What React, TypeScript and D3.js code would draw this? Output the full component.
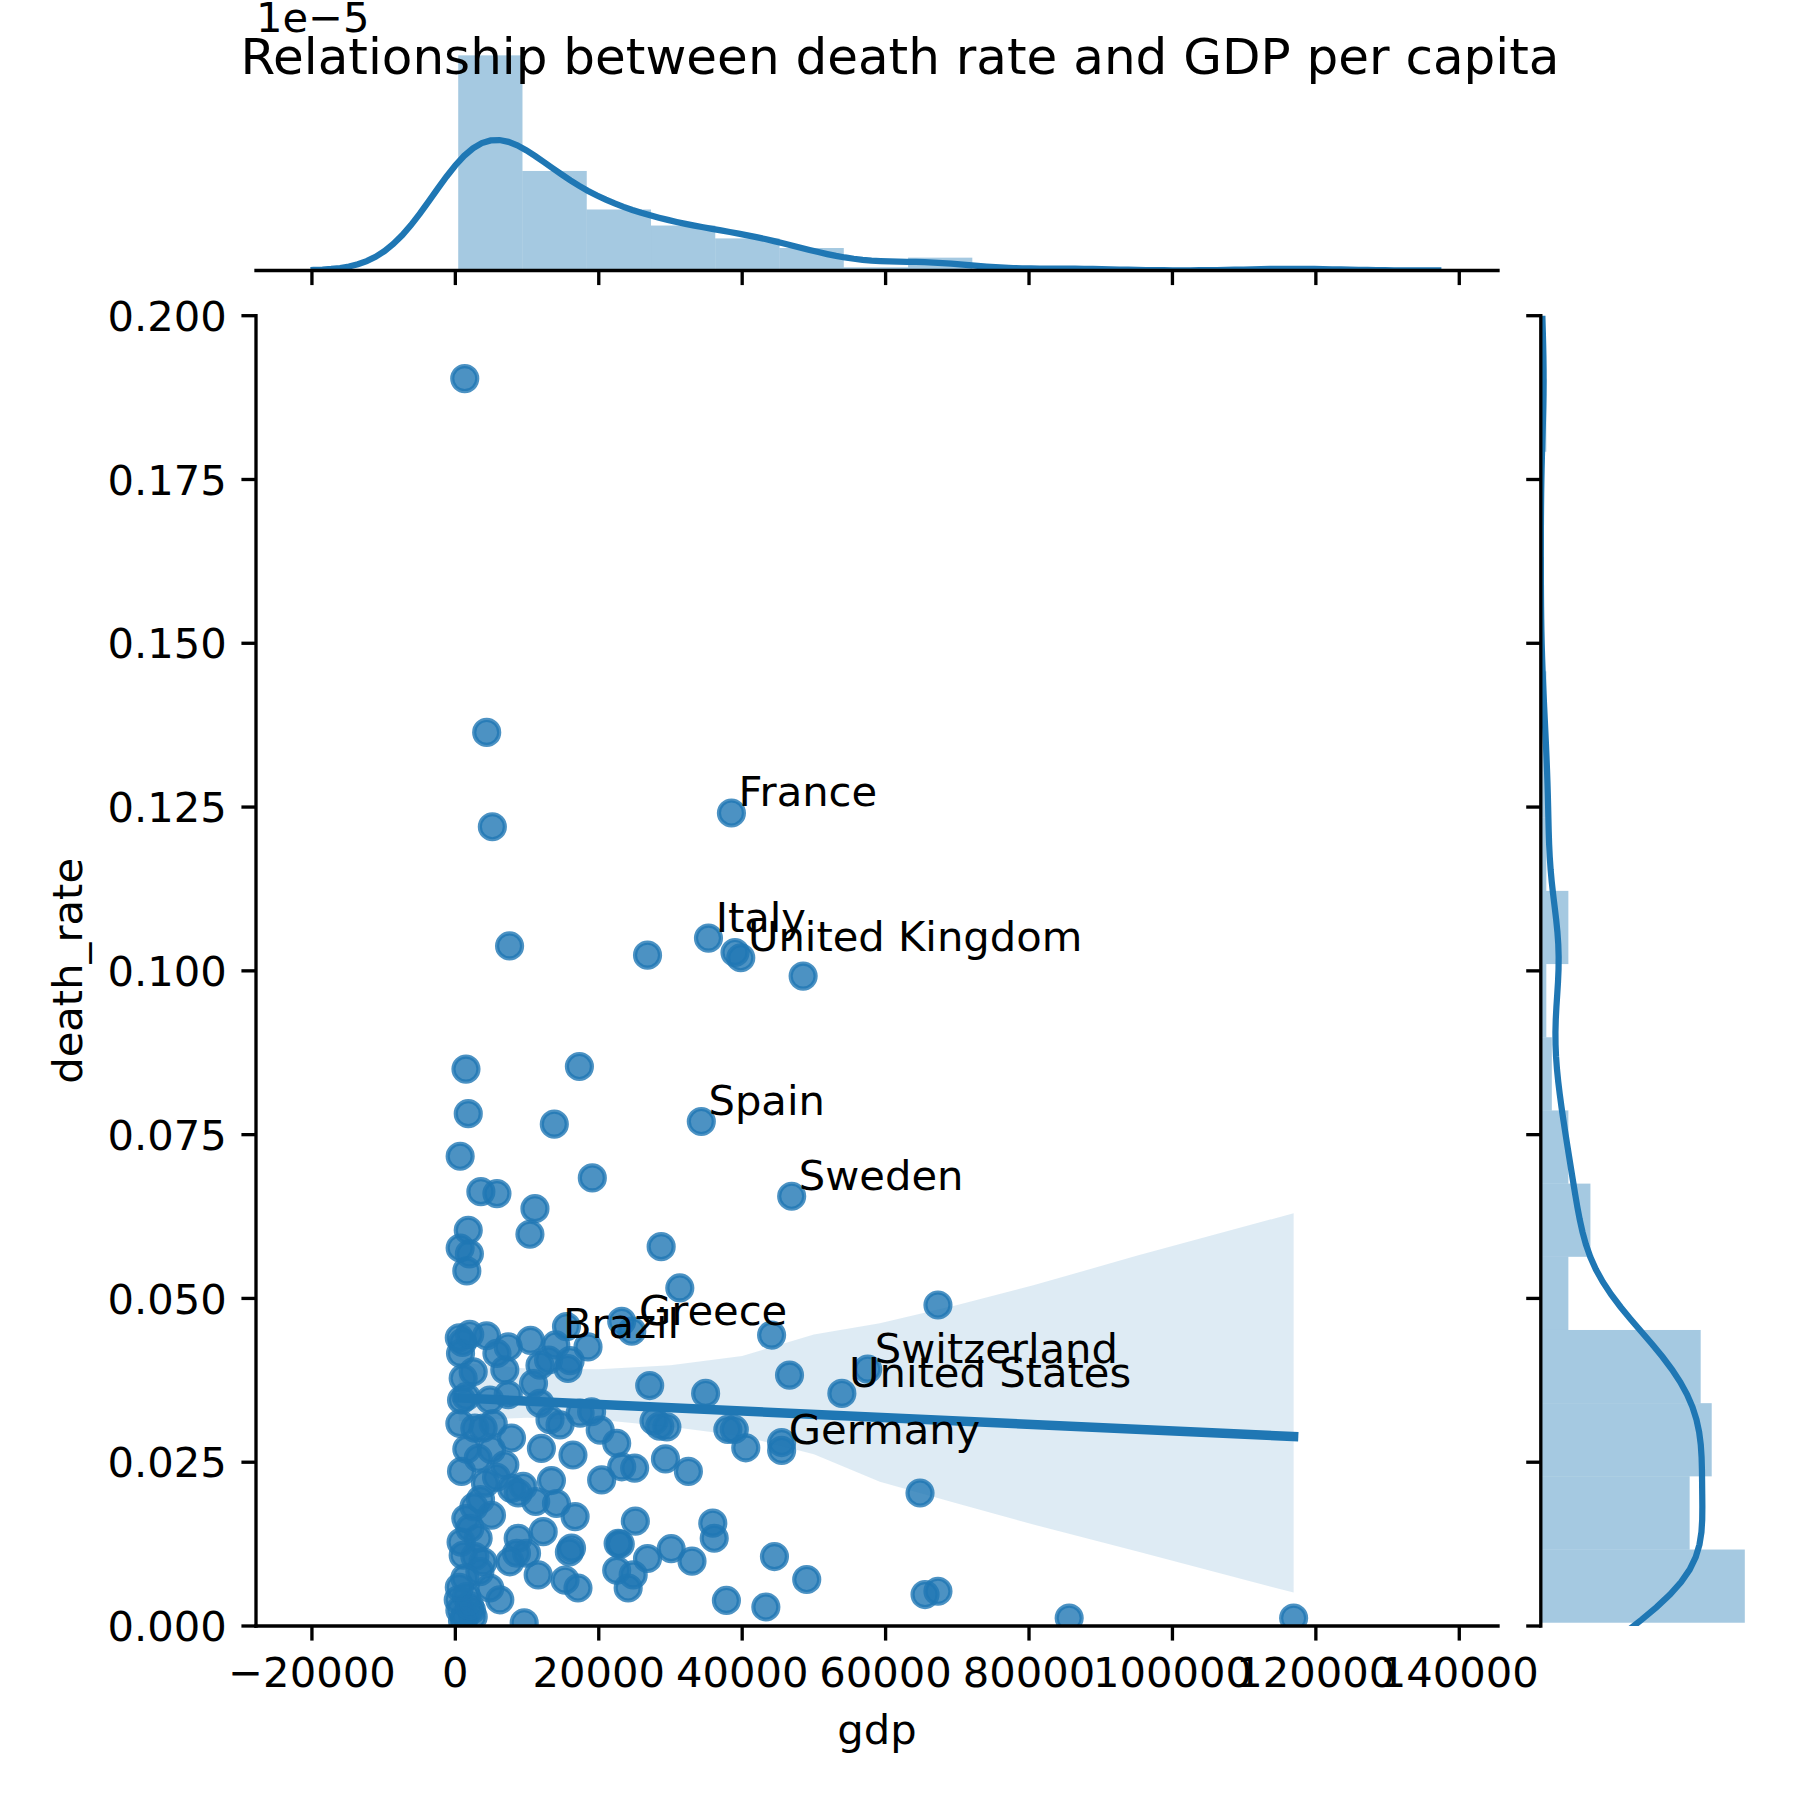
import React from "react";
import * as d3 from "d3";

// ---------------- data ----------------
// labelled countries are the first entries of gdp / deathRate
const labelNames = [
  "France", "Italy", "United Kingdom", "Spain", "Sweden",
  "Greece", "Brazil", "Switzerland", "United States", "Germany",
];

const gdp = [
  // labelled
  38500, 35300, 39800, 34300, 46900, 24600, 14000, 57500, 53900, 45500,
  // sparse / upper points
  1310, 4370, 5160, 7560, 26800, 48500, 1480, 17300, 1800, 13800,
  670, 19100, 3560, 5800, 11100, 10400, 1800, 28700, 670, 1960,
  1600, 31300, 67300, 44100, 46600, 27100, 34900, 38900, 40500, 45500,
  64800, 27700, 29500, 29300, 32500, 35900, 36100, 25100, 30100, 33000,
  26800, 44500, 49000, 37800, 43300, 65500, 67300, 85600, 116900, 9600,
  // dense band 0.023 - 0.047
  1000, 720, 4350, 7370, 10480, 15500, 18500, 23200, 2490, 1090,
  6900, 11800, 15700, 10900, 860, 4810, 7370, 11800, 17400, 19000,
  630, 2720, 3880, 5280, 13200, 14600, 20200, 22500, 7830, 12000,
  16400, 3180, 5040, 6900, 23200, 25000, 860,
  // dense low part 0 - 0.023
  5740, 7830, 9460, 8760, 13400, 20400, 3510, 5040, 1460, 2020,
  3180, 1090, 2720, 3880, 3420, 1320, 400, 1560, 2250, 2490,
  630, 1320, 6200, 4810, 8760, 8530, 9930, 7600, 12250, 11550,
  14100, 16700, 16200, 15900, 15300, 17100, 22700, 22500, 24100, 24800,
  // hidden under overlaps
  1000, 2000, 550, 800, 2600, 4200, 11200, 1600, 550, 2000,
  5800, 13000, 39000, 1500, 16000, 23000, 28500, 38000,
];

const deathRate = [
  // labelled
  0.1241, 0.1050, 0.1020, 0.0770, 0.0656, 0.0450, 0.0429, 0.0392, 0.0355, 0.0268,
  // sparse / upper points
  0.1904, 0.1364, 0.1220, 0.1038, 0.1024, 0.0992, 0.0850, 0.0854, 0.0782, 0.0766,
  0.0717, 0.0684, 0.0663, 0.0660, 0.0637, 0.0598, 0.0604, 0.0579, 0.0577, 0.0568,
  0.0542, 0.0516, 0.0490, 0.0444, 0.0383, 0.0367, 0.0355, 0.0300, 0.0272, 0.0280,
  0.0203, 0.0313, 0.0304, 0.0255, 0.0236, 0.0157, 0.0134, 0.0160, 0.0118, 0.0099,
  0.0103, 0.0106, 0.0071, 0.0039, 0.0029, 0.0048, 0.0053, 0.0012, 0.0012, 0.0005,
  // dense band
  0.0433, 0.0416, 0.0443, 0.0426, 0.0436, 0.0457, 0.0426, 0.0465, 0.0388, 0.0378,
  0.0391, 0.0398, 0.0393, 0.0370, 0.0345, 0.0345, 0.0353, 0.0340, 0.0325, 0.0327,
  0.0309, 0.0302, 0.0302, 0.0309, 0.0315, 0.0307, 0.0299, 0.0279, 0.0287, 0.0271,
  0.0261, 0.0256, 0.0269, 0.0246, 0.0243, 0.0241, 0.0236,
  // dense low part
  0.0227, 0.0210, 0.0213, 0.0203, 0.0222, 0.0223, 0.0193, 0.0169, 0.0164, 0.0149,
  0.0134, 0.0108, 0.0106, 0.0098, 0.0083, 0.0073, 0.0040, 0.0045, 0.0024, 0.0014,
  0.0024, 0.0014, 0.0040, 0.0058, 0.0134, 0.0111, 0.0111, 0.0098, 0.0144, 0.0078,
  0.0187, 0.0167, 0.0119, 0.0113, 0.0070, 0.0058, 0.0126, 0.0085, 0.0058, 0.0078,
  // hidden
  0.0008, 0.0031, 0.0059, 0.0128, 0.0182, 0.0218, 0.0190, 0.0270, 0.0440, 0.0445,
  0.0416, 0.0406, 0.1028, 0.0350, 0.0405, 0.0125, 0.0305, 0.0300,
];

// bootstrap confidence band of the regression
const ciGdp = [500, 10000, 20000, 30000, 40000, 50000, 59200, 70000, 80600, 95000, 116900];
const ciLow = [0.0313, 0.0318, 0.0315, 0.0304, 0.0290, 0.0262, 0.0220, 0.0187, 0.0155, 0.0114, 0.0051];
const ciHigh = [0.0402, 0.0393, 0.0392, 0.0398, 0.0412, 0.0445, 0.0462, 0.0490, 0.0520, 0.0565, 0.0630];

const xTicks = [-20000, 0, 20000, 40000, 60000, 80000, 100000, 120000, 140000];
const yTicks = [0, 0.025, 0.05, 0.075, 0.1, 0.125, 0.15, 0.175, 0.2];
const xDomain = [-27800, 145400];
const yDomain = [0, 0.2];
const xBinCount = 13;
const yBinCount = 17;

// ---------------- styling / layout ----------------
const FONT = "DejaVu Sans";
const BLUE = "#1f77b4";
const FS = 41.667;
const TITLE_FS = 50;
const LW = 3.333;
const TICK = 14.583;
const PAD = 14.583;

const J = { left: 256, right: 1498, top: 315.7, bottom: 1626 };
const MX = { left: 256, right: 1498, top: 44.6, bottom: 270.5 };
const MY = { left: 1540.8, right: 1755, top: 315.7, bottom: 1626 };

// ---------------- helpers ----------------
function scottBw(v: number[]) {
  const n = v.length;
  const sorted = [...v].sort((a, b) => a - b);
  const iqr = ((d3.quantileSorted(sorted, 0.75) as number) - (d3.quantileSorted(sorted, 0.25) as number)) / 1.349;
  const sd = d3.deviation(v) as number;
  const a = iqr > 0 ? Math.min(sd, iqr) : sd;
  return 1.059 * a * Math.pow(n, -0.2);
}

function kde(v: number[], gridsize = 128, cut = 3) {
  const bw = scottBw(v);
  const lo = (d3.min(v) as number) - cut * bw;
  const hi = (d3.max(v) as number) + cut * bw;
  const n = v.length;
  const norm = 1 / (n * bw * Math.sqrt(2 * Math.PI));
  const out: { v: number; d: number }[] = [];
  for (let i = 0; i < gridsize; i++) {
    const g = lo + ((hi - lo) * i) / (gridsize - 1);
    let s = 0;
    for (const xi of v) {
      const z = (g - xi) / bw;
      s += Math.exp(-0.5 * z * z);
    }
    out.push({ v: g, d: s * norm });
  }
  return out;
}

function histogram(v: number[], nb: number) {
  const lo = d3.min(v) as number;
  const hi = d3.max(v) as number;
  const w = (hi - lo) / nb;
  const counts = new Array(nb).fill(0);
  for (const xi of v) {
    let k = Math.floor((xi - lo) / w);
    if (k >= nb) k = nb - 1;
    counts[k]++;
  }
  return counts.map((c, k) => ({ x0: lo + k * w, x1: lo + (k + 1) * w, d: c / (v.length * w) }));
}

export default function App() {
  const n = gdp.length;
  const x = d3.scaleLinear().domain(xDomain).range([J.left, J.right]);
  const y = d3.scaleLinear().domain(yDomain).range([J.bottom, J.top]);

  // regression
  const mx = d3.mean(gdp) as number;
  const my = d3.mean(deathRate) as number;
  let sxy = 0, sxx = 0;
  for (let i = 0; i < n; i++) {
    sxy += (gdp[i] - mx) * (deathRate[i] - my);
    sxx += (gdp[i] - mx) * (gdp[i] - mx);
  }
  const slope = sxy / sxx;
  const icpt = my - slope * mx;
  const gmin = d3.min(gdp) as number;
  const gmax = d3.max(gdp) as number;
  const regLine = d3.line<number>().x((g) => x(g)).y((g) => y(icpt + slope * g))([gmin, gmax]) as string;

  const band = d3
    .area<number>()
    .x((_, i) => x(ciGdp[i]))
    .y0((_, i) => y(ciLow[i]))
    .y1((_, i) => y(ciHigh[i]))(ciGdp) as string;

  // marginals
  const hx = histogram(gdp, xBinCount);
  const kx = kde(gdp);
  const hy = histogram(deathRate, yBinCount);
  const ky = kde(deathRate);

  const mxMax = Math.max(d3.max(hx, (b) => b.d) as number, d3.max(kx, (p) => p.d) as number);
  const myMax = Math.max(d3.max(hy, (b) => b.d) as number, d3.max(ky, (p) => p.d) as number);
  const dX = d3.scaleLinear().domain([0, mxMax * 1.05]).range([MX.bottom, MX.top]);
  const dY = d3.scaleLinear().domain([0, myMax * 1.05]).range([MY.left, MY.right]);

  const kxPath = d3.line<{ v: number; d: number }>().x((p) => x(p.v)).y((p) => dX(p.d))(kx) as string;
  const kyPath = d3.line<{ v: number; d: number }>().x((p) => dY(p.d)).y((p) => y(p.v))(ky) as string;

  const fmtX = d3.format("d");
  const fmtY = d3.format(".3f");

  const textStyle = { fontFamily: FONT, fontSize: FS, fill: "#000" } as React.CSSProperties;

  return (
    <div>
      <style>{"body{margin:0}"}</style>
      <svg width={1800} height={1800} viewBox="0 0 1800 1800" style={{ display: "block", background: "#fff" }}>
        <defs>
          <clipPath id="clipJ">
            <rect x={J.left} y={J.top} width={J.right - J.left} height={J.bottom - J.top} />
          </clipPath>
          <clipPath id="clipMX">
            <rect x={MX.left} y={MX.top} width={MX.right - MX.left} height={MX.bottom - MX.top} />
          </clipPath>
          <clipPath id="clipMY">
            <rect x={MY.left} y={MY.top} width={MY.right - MY.left} height={MY.bottom - MY.top} />
          </clipPath>
        </defs>
        <rect x={0} y={0} width={1800} height={1800} fill="#fff" />

        {/* joint: scatter */}
        <g clipPath="url(#clipJ)">
          {gdp.map((g, i) => (
            <circle
              key={i}
              cx={x(g)}
              cy={y(deathRate[i])}
              r={12.5}
              fill={BLUE}
              fillOpacity={0.8}
              stroke={BLUE}
              strokeOpacity={0.8}
              strokeWidth={4.167}
            />
          ))}
          <path d={regLine} stroke={BLUE} strokeWidth={9.375} strokeLinecap="square" fill="none" />
          <path d={band} fill={BLUE} fillOpacity={0.15} stroke="none" />
        </g>

        {/* annotations */}
        {labelNames.map((name, i) => (
          <text key={name} x={x(gdp[i] + 1000)} y={y(deathRate[i] + 0.001)} style={textStyle}>
            {name}
          </text>
        ))}

        {/* joint axes */}
        <line x1={J.left} x2={J.right} y1={J.bottom} y2={J.bottom} stroke="#000" strokeWidth={LW} strokeLinecap="square" />
        <line x1={J.left} x2={J.left} y1={J.top} y2={J.bottom} stroke="#000" strokeWidth={LW} strokeLinecap="square" />
        {xTicks.map((t) => (
          <g key={"xt" + t}>
            <line x1={x(t)} x2={x(t)} y1={J.bottom} y2={J.bottom + TICK} stroke="#000" strokeWidth={LW} />
            <text x={x(t)} y={J.bottom + TICK + PAD + 0.76 * FS} textAnchor="middle" style={textStyle}>
              {fmtX(t)}
            </text>
          </g>
        ))}
        {yTicks.map((t) => (
          <g key={"yt" + t}>
            <line x1={J.left - TICK} x2={J.left} y1={y(t)} y2={y(t)} stroke="#000" strokeWidth={LW} />
            <text x={J.left - TICK - PAD} y={y(t) + 0.3645 * FS} textAnchor="end" style={textStyle}>
              {fmtY(t)}
            </text>
          </g>
        ))}
        <text x={(J.left + J.right) / 2} y={1744.4} textAnchor="middle" style={textStyle}>
          gdp
        </text>
        <text
          x={0}
          y={0}
          transform={`translate(81.5, ${(J.top + J.bottom) / 2}) rotate(-90)`}
          textAnchor="middle"
          style={textStyle}
        >
          death_rate
        </text>

        {/* marginal x */}
        <g clipPath="url(#clipMX)">
          {hx.map((b, i) => (
            <rect
              key={i}
              x={x(b.x0)}
              y={dX(b.d)}
              width={x(b.x1) - x(b.x0)}
              height={dX(0) - dX(b.d)}
              fill={BLUE}
              fillOpacity={0.4}
            />
          ))}
          <path d={kxPath} stroke={BLUE} strokeWidth={6.25} fill="none" strokeLinecap="square" />
        </g>
        <line x1={MX.left} x2={MX.right} y1={MX.bottom} y2={MX.bottom} stroke="#000" strokeWidth={LW} strokeLinecap="square" />
        {xTicks.map((t) => (
          <line key={"mxt" + t} x1={x(t)} x2={x(t)} y1={MX.bottom} y2={MX.bottom + TICK} stroke="#000" strokeWidth={LW} />
        ))}
        <text x={MX.left} y={MX.top - 12.5} style={textStyle}>
          1e−5
        </text>

        {/* marginal y */}
        <g clipPath="url(#clipMY)">
          {hy.map((b, i) => (
            <rect
              key={i}
              x={dY(0)}
              y={y(b.x1)}
              width={dY(b.d) - dY(0)}
              height={y(b.x0) - y(b.x1)}
              fill={BLUE}
              fillOpacity={0.4}
            />
          ))}
          <path d={kyPath} stroke={BLUE} strokeWidth={6.25} fill="none" strokeLinecap="square" />
        </g>
        <line x1={MY.left} x2={MY.left} y1={MY.top} y2={MY.bottom} stroke="#000" strokeWidth={LW} strokeLinecap="square" />
        {yTicks.map((t) => (
          <line key={"myt" + t} x1={MY.left - TICK} x2={MY.left} y1={y(t)} y2={y(t)} stroke="#000" strokeWidth={LW} />
        ))}

        {/* title */}
        <text x={900} y={74} textAnchor="middle" style={{ fontFamily: FONT, fontSize: TITLE_FS, fill: "#000" }}>
          Relationship between death rate and GDP per capita
        </text>
      </svg>
    </div>
  );
}
